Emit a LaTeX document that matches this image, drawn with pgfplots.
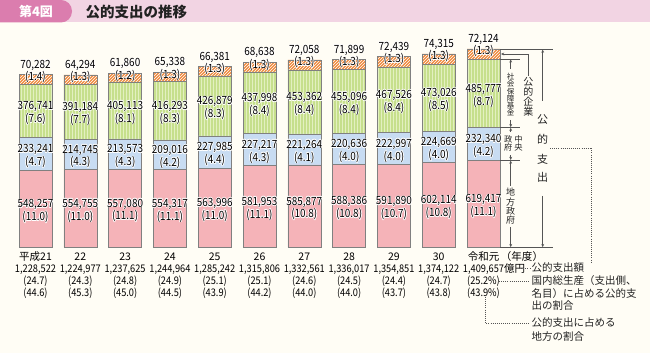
\documentclass[border=0pt]{standalone}
\usepackage{pgfplots}
\pgfplotsset{compat=1.18}
\usepackage{pgfplotstable}
\usepackage{fontspec}
\setmainfont{Noto Sans CJK JP}
\newfontfamily\numfont[FakeStretch=0.88]{Noto Sans CJK JP}
\usetikzlibrary{patterns,arrows.meta}

\definecolor{bg}{HTML}{FFFDF5}
\definecolor{band}{HTML}{F2D4E3}
\definecolor{tab}{HTML}{DB7DAE}
\definecolor{pinkbar}{HTML}{F5B3B8}
\definecolor{bluebar}{HTML}{C8DCF2}
\definecolor{greenbar}{HTML}{C6DF8C}
\definecolor{greenstripe}{HTML}{E3F0C0}
\definecolor{orangebar}{HTML}{EF8A3D}
\definecolor{outl}{HTML}{808080}
\definecolor{annot}{HTML}{555555}
\definecolor{txt}{HTML}{222222}
\definecolor{yrgray}{HTML}{444444}

\newcommand\halo[1]{\leavevmode
\rlap{\textcolor{white}{\hspace{.7pt}#1}}%
\rlap{\textcolor{white}{\hspace{-.7pt}#1}}%
\rlap{\textcolor{white}{\raisebox{.7pt}{#1}}}%
\rlap{\textcolor{white}{\raisebox{-.7pt}{#1}}}%
\rlap{\textcolor{white}{\hspace{.5pt}\raisebox{.5pt}{#1}}}%
\rlap{\textcolor{white}{\hspace{-.5pt}\raisebox{.5pt}{#1}}}%
\rlap{\textcolor{white}{\hspace{.5pt}\raisebox{-.5pt}{#1}}}%
\rlap{\textcolor{white}{\hspace{-.5pt}\raisebox{-.5pt}{#1}}}%
#1}

\pgfplotstableread{
i loc cen soc cor tot locV cenV socV corV locP cenP socP corP yr totL gdp sh
0 548257 233241 376741 70282 1228522 548,257 233,241 376,741 70,282 11.0 4.7 7.6 1.4 平成21 1,228,522 24.7 44.6
1 554755 214745 391184 64294 1224977 554,755 214,745 391,184 64,294 11.0 4.3 7.7 1.3 22 1,224,977 24.3 45.3
2 557080 213573 405113 61860 1237625 557,080 213,573 405,113 61,860 11.1 4.3 8.1 1.2 23 1,237,625 24.8 45.0
3 554317 209016 416293 65338 1244964 554,317 209,016 416,293 65,338 11.1 4.2 8.3 1.3 24 1,244,964 24.9 44.5
4 563996 227985 426879 66381 1285242 563,996 227,985 426,879 66,381 11.0 4.4 8.3 1.3 25 1,285,242 25.1 43.9
5 581953 227217 437998 68638 1315806 581,953 227,217 437,998 68,638 11.1 4.3 8.4 1.3 26 1,315,806 25.1 44.2
6 585877 221264 453362 72058 1332561 585,877 221,264 453,362 72,058 10.8 4.1 8.4 1.3 27 1,332,561 24.6 44.0
7 588386 220636 455096 71899 1336017 588,386 220,636 455,096 71,899 10.8 4.0 8.4 1.3 28 1,336,017 24.5 44.0
8 591890 222997 467526 72439 1354851 591,890 222,997 467,526 72,439 10.7 4.0 8.4 1.3 29 1,354,851 24.4 43.7
9 602114 224669 473026 74315 1374122 602,114 224,669 473,026 74,315 10.8 4.0 8.5 1.3 30 1,374,122 24.7 43.8
10 619417 232340 485777 72124 1409657 619,417 232,340 485,777 72,124 11.1 4.2 8.7 1.3 令和元 1,409,657 25.2 43.9
}\data

\pgfplotsset{
  frame/.style={at={(0,0)},anchor=south west,scale only axis,width=650pt,height=353pt,
    xmin=-0.79241,xmax=13.71652,ymin=-749050,ymax=1757250,clip=false},
  lab/.style n args={3}{draw=none,mark=none,point meta=explicit symbolic,
    nodes near coords={#3},
    every node near coord/.append style={anchor=base,inner sep=0pt,yshift=#1,
      font=#2,text=black}},
  seg/.style={font=\numfont\fontsize{11.3}{13}\selectfont},
}
\newcommand\segfont{\numfont\fontsize{11.3}{13}\selectfont}
\newcommand\botfont{\numfont\fontsize{10.5}{12}\selectfont}
\newcommand\yrfont{\rmfamily\fontsize{10.5}{12}\selectfont\color{yrgray}}

\begin{document}
\begin{tikzpicture}
\useasboundingbox (0,0) rectangle (650pt,353pt);
\fill[bg] (0,0) rectangle (650pt,353pt);

\begin{axis}[frame,hide axis,ybar stacked,bar width=33pt]
\addplot[fill=pinkbar,draw=outl,line width=0.6pt] table[x=i,y=loc]{\data};
\addplot[fill=bluebar,draw=outl,line width=0.6pt] table[x=i,y=cen]{\data};
\addplot[fill=greenbar,draw=outl,line width=0.6pt,postaction={pattern=vertical lines,pattern color=greenstripe}] table[x=i,y=soc]{\data};
\addplot[fill=orangebar,draw=outl,line width=0.6pt,postaction={pattern=north east lines,pattern color=white}] table[x=i,y=cor]{\data};
\end{axis}

\begin{axis}[frame,hide axis]
% segment labels: value line and (share) line
\addplot[lab={1.1pt}{\segfont}{\halo{\pgfplotspointmeta}}] table[x=i,y expr=\thisrow{loc}/2,meta=locV]{\data};
\addplot[lab={-11.7pt}{\segfont}{\halo{(\pgfplotspointmeta)}}] table[x=i,y expr=\thisrow{loc}/2,meta=locP]{\data};
\addplot[lab={1.1pt}{\segfont}{\halo{\pgfplotspointmeta}}] table[x=i,y expr=\thisrow{loc}+\thisrow{cen}/2,meta=cenV]{\data};
\addplot[lab={-11.7pt}{\segfont}{\halo{(\pgfplotspointmeta)}}] table[x=i,y expr=\thisrow{loc}+\thisrow{cen}/2,meta=cenP]{\data};
\addplot[lab={1.1pt}{\segfont}{\halo{\pgfplotspointmeta}}] table[x=i,y expr=\thisrow{loc}+\thisrow{cen}+\thisrow{soc}/2,meta=socV]{\data};
\addplot[lab={-11.7pt}{\segfont}{\halo{(\pgfplotspointmeta)}}] table[x=i,y expr=\thisrow{loc}+\thisrow{cen}+\thisrow{soc}/2,meta=socP]{\data};
\addplot[lab={6.2pt}{\segfont}{\halo{\pgfplotspointmeta}}] table[x=i,y=tot,meta=corV]{\data};
\addplot[lab={-6pt}{\segfont}{\halo{(\pgfplotspointmeta)}}] table[x=i,y=tot,meta=corP]{\data};
% bottom labels
\addplot[lab={-13.2pt}{\yrfont}{\pgfplotspointmeta},restrict x to domain=0:9.5] table[x=i,y expr=0,meta=yr]{\data};
\addplot[lab={-13.2pt}{\yrfont}{\pgfplotspointmeta\rlap{\,（年度）}},restrict x to domain=9.5:10.5] table[x=i,y expr=0,meta=yr]{\data};
\addplot[lab={-25.3pt}{\botfont}{\pgfplotspointmeta},restrict x to domain=0:9.5] table[x=i,y expr=0,meta=totL]{\data};
\addplot[lab={-25.3pt}{\botfont}{\pgfplotspointmeta\rlap{\rmfamily 億円}},restrict x to domain=9.5:10.5] table[x=i,y expr=0,meta=totL]{\data};
\addplot[lab={-37pt}{\botfont}{(\pgfplotspointmeta)},restrict x to domain=0:9.5] table[x=i,y expr=0,meta=gdp]{\data};
\addplot[lab={-37pt}{\botfont}{(\pgfplotspointmeta\%)},restrict x to domain=9.5:10.5] table[x=i,y expr=0,meta=gdp]{\data};
\addplot[lab={-49pt}{\botfont}{(\pgfplotspointmeta)},restrict x to domain=0:9.5] table[x=i,y expr=0,meta=sh]{\data};
\addplot[lab={-49pt}{\botfont}{(\pgfplotspointmeta\%)},restrict x to domain=9.5:10.5] table[x=i,y expr=0,meta=sh]{\data};
\end{axis}

\begin{scope}[x=1pt,y=-1pt,yshift=353pt]
% header
\fill[band] (0,0) rectangle (650,22.5);
\fill[tab,rounded corners=11pt] (-30,0) rectangle (72,22.5);
\node[text=white,font=\bfseries\fontsize{13}{13}\selectfont] at (36,11.5) {第4図};
\node[anchor=west,text=txt,font=\bfseries\fontsize{14.5}{14.5}\selectfont] at (82,12) {公的支出の推移};
% annotation lines
\tikzset{an/.style={draw=annot,line width=0.55pt},ar/.style={an,-{Stealth[length=3.2pt,width=2.8pt]}}}
\draw[an] (500,49.3) -- (553,49.3);
\draw[an] (500,247.5) -- (553,247.5);
\draw[an] (500,59.1) -- (520,59.1);
\draw[an] (500,127.5) -- (520,127.5);
\draw[an] (500,160.3) -- (520,160.3);
% 公的支出
\draw[ar] (542.7,101) -- (542.7,49.6);
\draw[ar] (542.7,196) -- (542.7,247.2);
\node[text=txt,font=\fontsize{11}{11}\selectfont] at (542.7,120) {公};
\node[text=txt,font=\fontsize{11}{11}\selectfont] at (542.7,139.5) {的};
\node[text=txt,font=\fontsize{11}{11}\selectfont] at (542.7,159) {支};
\node[text=txt,font=\fontsize{11}{11}\selectfont] at (542.7,177.5) {出};
% 公的企業
\draw[ar] (528.3,76) -- (528.3,54) -- (501,54);
\node[text=txt,align=center,inner sep=0pt,font=\fontsize{10}{10}\selectfont] at (528.3,97.3) {公\\的\\企\\業};
% 社会保障基金
\draw[ar] (510.7,69) -- (510.7,59.4);
\draw[ar] (510.7,120) -- (510.7,127.2);
\node[text=txt,align=center,inner sep=0pt,font=\fontsize{7.5}{7.3}\selectfont] at (510.7,94.7) {社\\会\\保\\障\\基\\金};
% 中央政府
\draw[ar] (510.7,132) -- (510.7,127.8);
\draw[ar] (510.7,155.5) -- (510.7,160);
\node[text=txt,align=center,inner sep=0pt,font=\fontsize{8.3}{8.3}\selectfont] at (518.5,143.5) {中\\央};
\node[text=txt,align=center,inner sep=0pt,font=\fontsize{8.3}{8.3}\selectfont] at (508.3,143.5) {政\\府};
% 地方政府
\draw[ar] (510.7,186) -- (510.7,160.6);
\draw[ar] (510.7,227) -- (510.7,247.2);
\node[text=txt,align=center,inner sep=0pt,font=\fontsize{9}{9.3}\selectfont] at (510.7,206.5) {地\\方\\政\\府};
% dotted leaders
\tikzset{dt/.style={draw=annot,line width=0.6pt,dash pattern=on 0.8pt off 1.3pt}}
\draw[dt] (550,148) -- (591.7,148) -- (591.7,262);
\draw[dt] (519,268) -- (530,268);
\draw[dt] (499,281) -- (530,281);
\draw[dt] (485,297) -- (485,323) -- (530,323);
\tikzset{rt/.style={anchor=west,inner sep=0pt,text=txt,font=\fontsize{10.5}{10.5}\selectfont}}
\node[rt] at (531.5,268) {公的支出額};
\node[rt] at (531.5,281) {国内総生産（支出側、};
\node[rt] at (531.5,293.7) {名目）に占める公的支};
\node[rt] at (531.5,306) {出の割合};
\node[rt] at (531.5,322.7) {公的支出に占める};
\node[rt] at (531.5,336.7) {地方の割合};
\end{scope}
\end{tikzpicture}
\end{document}
